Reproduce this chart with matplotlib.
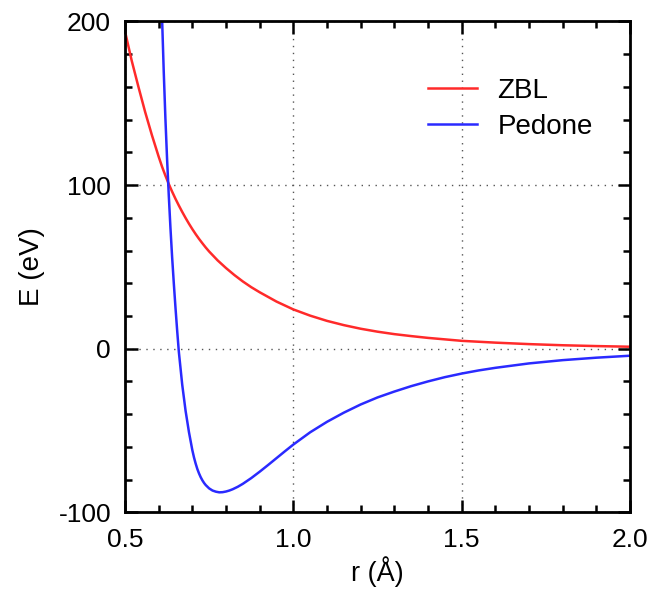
import matplotlib
matplotlib.use("Agg")
import matplotlib.pyplot as plt
from matplotlib.ticker import MultipleLocator, FormatStrFormatter

plt.rcParams['font.family'] = ['Liberation Sans', 'DejaVu Sans']
plt.rcParams['axes.unicode_minus'] = False

# ZBL curve
zbl_r = [0.50, 0.52, 0.54, 0.56, 0.58, 0.60, 0.61, 0.62, 0.63, 0.64, 0.65, 0.66,
         0.67, 0.68, 0.69, 0.70, 0.71, 0.72, 0.73, 0.74, 0.75, 0.775, 0.80, 0.825,
         0.85, 0.875, 0.90, 0.95, 1.00, 1.05, 1.10, 1.15, 1.20, 1.25, 1.30, 1.35,
         1.40, 1.50, 1.60, 1.70, 1.80, 1.90, 2.00]
zbl_e = [194, 176, 160, 144.6, 130.5, 117.4, 111.3, 105.8, 100.7, 96, 91.6, 87.5,
         83.6, 79.9, 76.4, 73.1, 70.0, 67.1, 64.4, 61.8, 59.4, 54.0, 49.3, 45,
         41.1, 37.6, 34.5, 28.8, 24, 20.2, 17, 14.4, 12.2, 10.4, 8.9, 7.7,
         6.6, 4.8, 3.7, 2.8, 2.1, 1.6, 1.2]

# Pedone curve
ped_r = [0.610, 0.615, 0.620, 0.625, 0.630, 0.635, 0.640, 0.645, 0.650, 0.655,
         0.66, 0.67, 0.68, 0.69, 0.70, 0.705, 0.71, 0.715, 0.72, 0.725, 0.73,
         0.735, 0.74, 0.75, 0.76, 0.77, 0.78, 0.79, 0.80, 0.81, 0.82, 0.835,
         0.85, 0.875, 0.90, 0.925, 0.95, 0.975, 1.00, 1.05, 1.10, 1.15, 1.20,
         1.25, 1.30, 1.35, 1.40, 1.45, 1.50, 1.55, 1.60, 1.70, 1.80, 1.90, 2.00]
ped_e = [203, 170, 141, 116, 94, 74, 56, 40, 25, 11,
         -2, -22, -38, -51, -62, -66.5, -70.3, -73.6, -76.3, -78.6, -80.5,
         -82.1, -83.4, -85.4, -86.7, -87.4, -87.8, -87.7, -87.3, -86.7, -85.9, -84.4,
         -82.6, -79.1, -75.2, -71.1, -66.9, -62.7, -58.6, -51.1, -44.7, -39.1, -34.1,
         -29.8, -26.2, -22.9, -20, -17.4, -15.2, -13.3, -11.7, -9, -7, -5.5, -4.3]

fig = plt.figure(figsize=(6.53, 5.90), dpi=100)
ax = fig.add_axes([0.1914, 0.1317, 0.7734, 0.8319])

ax.plot(zbl_r, zbl_e, color='#ff2a2a', lw=1.8, label='ZBL')
ax.plot(ped_r, ped_e, color='#2a2aff', lw=1.8, label='Pedone')

ax.set_xlim(0.5, 2.0)
ax.set_ylim(-100, 200)
ax.xaxis.set_major_locator(MultipleLocator(0.5))
ax.xaxis.set_minor_locator(MultipleLocator(0.1))
ax.yaxis.set_major_locator(MultipleLocator(100))
ax.yaxis.set_minor_locator(MultipleLocator(20))
ax.xaxis.set_major_formatter(FormatStrFormatter('%.1f'))

ax.grid(True, which='major', linestyle=(0, (1, 4)), color='#555555', lw=1)
for s in ax.spines.values():
    s.set_linewidth(2)
ax.tick_params(which='both', direction='in', top=True, right=True, width=1.8,
               labelsize=19)
ax.tick_params(which='major', length=9)
ax.tick_params(which='minor', length=5)
ax.tick_params(axis='x', pad=11)
ax.tick_params(axis='y', pad=10)

ax.set_xlabel('r (Å)', fontsize=19.5, labelpad=3)
ax.set_ylabel('E (eV)', fontsize=20, labelpad=10)

ax.legend(loc='upper left', frameon=False, fontsize=20, handlelength=1.75,
          handletextpad=0.75, borderpad=0, borderaxespad=0,
          bbox_to_anchor=(0.6, 0.885), labelspacing=0.35)

fig.savefig('out.png', dpi=100)
